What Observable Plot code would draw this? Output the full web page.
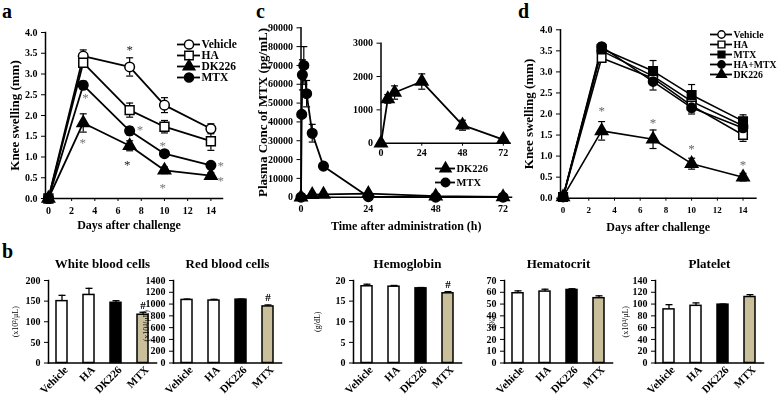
<!DOCTYPE html>
<html><head><meta charset="utf-8">
<script src="https://cdn.jsdelivr.net/npm/d3@7"></script>
<script src="https://cdn.jsdelivr.net/npm/@observablehq/plot@0.6"></script>
<style>
html,body{margin:0;padding:0;background:#fff;}
body{width:777px;height:398px;overflow:hidden;position:relative;font-family:'Liberation Serif','Times New Roman',serif;}
svg{max-width:none !important;}
.pl{position:absolute;will-change:transform;}
.letter{position:absolute;font-weight:bold;font-size:20px;line-height:normal;}
</style></head>
<body>
<div class="letter" style="left:2px;top:0px">a</div>
<div class="letter" style="left:256px;top:0px">c</div>
<div class="letter" style="left:518px;top:0px">d</div>
<div class="letter" style="left:2px;top:240px">b</div>
<script>
// ---------- DATA ----------
// Panel a
const aDays = [0, 3, 7, 10, 14];
const aNames = ["Vehicle", "HA", "DK226", "MTX"];
const aVehicle = [0, 3.43, 3.17, 2.25, 1.68];
const aVehicleErr = [0, 0.15, 0.22, 0.18, 0.12];
const aHA = [0, 3.27, 2.13, 1.73, 1.38];
const aHAErr = [0, 0.1, 0.17, 0.15, 0.22];
const aDK = [0, 1.82, 1.27, 0.68, 0.55];
const aDKErr = [0, 0.22, 0.12, 0.08, 0.07];
const aMTX = [0, 2.73, 1.63, 1.08, 0.8];
const aMTXErr = [0, 0.1, 0.1, 0.05, 0.05];
const aYTicks = [0, 0.5, 1, 1.5, 2, 2.5, 3, 3.5, 4];
const aXTicks = [0, 2, 4, 6, 8, 10, 12, 14];
const aStarX = [7, 6.8, 3.2, 2.95, 7.9, 9.85, 9.85, 14.85, 14.85];
const aStarY = [3.65, 0.88, 2.5, 1.42, 1.72, 1.35, 0.33, 0.86, 0.5];
const aStarDark = [true, true, false, false, false, false, false, false, false];

// Panel c
const cNames = ["DK226", "MTX"];
const cTimeDK = [0, 4, 8, 24, 48, 72];
const cDK = [0, 1330, 1520, 1850, 540, 110];
const cDKErr = [0, 130, 200, 230, 150, 30];
const cTimeMTX = [0, 0.25, 0.5, 1, 2, 4, 8, 24, 48, 72];
const cMTX = [0, 44000, 65000, 70000, 55000, 34000, 16500, 300, 0, 0];
const cMTXErr = [0, 0, 8000, 10000, 7000, 4700, 1000, 0, 0, 0];
const cYTicks = [0, 10000, 20000, 30000, 40000, 50000, 60000, 70000, 80000, 90000];
const cXTicks = [0, 24, 48, 72];
const cInsetYTicks = [0, 1000, 2000, 3000];

// Panel d
const dDays = [0, 3, 7, 10, 14];
const dNames = ["Vehicle", "HA", "MTX", "HA+MTX", "DK226"];
const dVehicle = [0.03, 3.5, 2.9, 2.3, 1.72];
const dVehicleErr = [0, 0.08, 0.2, 0.2, 0.15];
const dHA = [0.03, 3.33, 2.85, 2.2, 1.5];
const dHAErr = [0, 0.08, 0.15, 0.15, 0.15];
const dMTX = [0.03, 3.55, 3.02, 2.45, 1.83];
const dMTXErr = [0, 0.08, 0.25, 0.25, 0.15];
const dHAMTX = [0.03, 3.6, 2.77, 2.15, 1.67];
const dHAMTXErr = [0, 0.08, 0.2, 0.15, 0.15];
const dDK = [0.03, 1.6, 1.4, 0.82, 0.5];
const dDKErr = [0, 0.22, 0.22, 0.13, 0.09];
const dStarX = [3, 7, 10, 14];
const dStarY = [2.15, 1.86, 1.24, 0.86];

// Panel b
const barCats = ["Vehicle", "HA", "DK226", "MTX"];
const barFills = ["white", "white", "black", "#c9bf9a"];
const wbcVals = [150, 165, 146, 117];  const wbcErr = [14, 16, 5, 6];
const rbcVals = [1070, 1060, 1075, 960]; const rbcErr = [15, 20, 10, 25];
const hbVals = [18.6, 18.5, 18.1, 16.9]; const hbErr = [0.5, 0.3, 0.2, 0.4];
const hctVals = [59.2, 60.6, 62, 55];   const hctErr = [2, 2, 1, 2];
const pltVals = [91, 97, 99, 112];      const pltErr = [8, 5, 1, 4];
const wbcTicks = [0, 50, 100, 150, 200];
const rbcTicks = [0, 200, 400, 600, 800, 1000, 1200, 1400];
const hbTicks = [0, 5, 10, 15, 20];
const hctTicks = [0, 10, 20, 30, 40, 50, 60, 70];
const pltTicks = [0, 20, 40, 60, 80, 100, 120, 140];

// ---------- HELPERS ----------
const SERIF = "'Liberation Serif','Times New Roman',serif";
const baseStyle = {fontFamily: SERIF, fontWeight: "bold", fontSize: "10px", color: "black", background: "transparent", overflow: "visible"};
const capSym = {draw(ctx) { ctx.moveTo(-3.5, 0); ctx.lineTo(3.5, 0); }};

function place(node, left, top, w, h) {
  const d = document.createElement("div");
  d.className = "pl";
  d.style.left = left + "px"; d.style.top = top + "px";
  d.style.width = w + "px"; d.style.height = h + "px";
  d.appendChild(node);
  document.body.appendChild(d);
}

function rowsOf(specs) {
  return specs.flatMap(s => s.x.map((x, i) => ({s: s.name, x, y: s.y[i], e: s.err[i]})));
}

function seriesMarks(specs, lw) {
  const rows = rowsOf(specs);
  const marks = [];
  for (const s of specs) marks.push(Plot.line(rows.filter(d => d.s === s.name), {x: "x", y: "y", stroke: "black", strokeWidth: lw}));
  const er = rows.filter(d => d.e > 0);
  marks.push(Plot.ruleX(er, {x: "x", y1: d => d.y - d.e, y2: d => d.y + d.e, stroke: "black", strokeWidth: 1.2}));
  marks.push(Plot.dot(er, {x: "x", y: d => d.y + d.e, symbol: capSym, fill: "none", stroke: "black", strokeWidth: 1.2}));
  marks.push(Plot.dot(er, {x: "x", y: d => d.y - d.e, symbol: capSym, fill: "none", stroke: "black", strokeWidth: 1.2}));
  for (const s of specs) marks.push(Plot.dot(rows.filter(d => d.s === s.name), {x: "x", y: "y", symbol: s.symbol, fill: s.fill, stroke: "black", strokeWidth: 1.5, r: s.r}));
  return marks;
}

function legendPlot(specs, {lineW, textW, step, fontSize, rScale}) {
  const names = specs.map(s => s.name);
  const n = names.length;
  return Plot.plot({
    width: lineW + textW, height: (n - 1) * step + 12,
    marginLeft: 0, marginRight: textW, marginTop: 6, marginBottom: 6,
    y: {type: "point", domain: names, padding: 0, axis: null},
    style: {...baseStyle, fontSize: fontSize + "px"},
    marks: [
      Plot.ruleY(names, {y: d => d, stroke: "black", strokeWidth: 1.8}),
      ...specs.map(s => Plot.dot([s.name], {y: d => d, symbol: s.symbol, fill: s.fill, stroke: "black", strokeWidth: 1.4, r: s.r * rScale})),
      Plot.text(names, {y: d => d, text: d => d, frameAnchor: "right", textAnchor: "start", lineAnchor: "middle", dx: 1})
    ]
  });
}

function starMarks(stars, color) {
  return Plot.text(stars, {x: "x", y: "y", text: d => "*", fill: color, fontSize: 13, fontWeight: "normal", dy: 3});
}

// ---------- PANEL a ----------
const aSpecs = [
  {name: "Vehicle", x: aDays, y: aVehicle, err: aVehicleErr, symbol: "circle", fill: "white", r: 4.8},
  {name: "HA", x: aDays, y: aHA, err: aHAErr, symbol: "square", fill: "white", r: 5},
  {name: "DK226", x: aDays, y: aDK, err: aDKErr, symbol: "triangle", fill: "black", r: 4.6},
  {name: "MTX", x: aDays, y: aMTX, err: aMTXErr, symbol: "circle", fill: "black", r: 4.8}
];
const aStars = aStarX.map((x, i) => ({x, y: aStarY[i], dark: aStarDark[i]}));
place(Plot.plot({
  width: 240, height: 240, marginLeft: 45, marginRight: 18, marginTop: 32, marginBottom: 42,
  x: {domain: [-0.25, 15], label: null}, y: {domain: [0, 4], label: null},
  style: baseStyle,
  marks: [
    Plot.axisY(aYTicks, {tickSize: 4, tickPadding: 4, tickFormat: d => d.toFixed(1), label: null}),
    Plot.axisX(aXTicks, {tickSize: 3, tickPadding: 5, label: null, fontSize: 10}),
    Plot.frame({anchor: "left", strokeWidth: 1.5}),
    Plot.frame({anchor: "bottom", strokeWidth: 1.5}),
    ...seriesMarks(aSpecs, 1.8),
    starMarks(aStars.filter(d => d.dark), "#222"),
    starMarks(aStars.filter(d => !d.dark), "#777"),
    Plot.text(["Knee swelling (mm)"], {frameAnchor: "left", textAnchor: "middle", lineAnchor: "middle", rotate: -90, dx: -31, fontSize: 13}),
    Plot.text(["Days after challenge"], {frameAnchor: "bottom", textAnchor: "middle", lineAnchor: "middle", dy: 27, dx: -5, fontSize: 12})
  ]
}), 0, 0, 240, 240);
place(legendPlot(aSpecs, {lineW: 23, textW: 55, step: 11.7, fontSize: 11.5, rScale: 0.95}), 177, 37.3, 78, 47);

// ---------- PANEL c ----------
const cSpecs = [
  {name: "DK226", x: cTimeDK, y: cDK, err: cDKErr, symbol: "triangle", fill: "black", r: 4.6},
  {name: "MTX", x: cTimeMTX, y: cMTX, err: cMTXErr, symbol: "circle", fill: "black", r: 4.8}
];
place(Plot.plot({
  width: 260, height: 240, marginLeft: 45.5, marginRight: 4, marginTop: 27.3, marginBottom: 43.3,
  x: {domain: [0, 75], label: null}, y: {domain: [0, 90000], label: null},
  style: baseStyle,
  marks: [
    Plot.axisY(cYTicks, {tickSize: 4, tickPadding: 4, tickFormat: d3.format("d"), label: null}),
    Plot.axisX(cXTicks, {tickSize: 3, tickPadding: 5, label: null}),
    Plot.frame({anchor: "left", strokeWidth: 1.5}),
    Plot.frame({anchor: "bottom", strokeWidth: 1.5}),
    ...seriesMarks(cSpecs, 1.8),
    Plot.text(["Plasma Conc of MTX (pg/mL)"], {frameAnchor: "left", textAnchor: "middle", lineAnchor: "middle", rotate: -90, dx: -38, fontSize: 13}),
    Plot.text(["Time after administration (h)"], {frameAnchor: "bottom", textAnchor: "middle", lineAnchor: "middle", dy: 29, fontSize: 12})
  ]
}), 255, 0, 260, 240);
// inset
place(Plot.plot({
  width: 185, height: 165, marginLeft: 50.5, marginRight: 5.4, marginTop: 42.7, marginBottom: 22.3,
  x: {domain: [0, 76], label: null}, y: {domain: [0, 3000], label: null},
  style: baseStyle,
  marks: [
    Plot.axisY(cInsetYTicks, {tickSize: 4, tickPadding: 4, tickFormat: d3.format("d"), label: null}),
    Plot.axisX(cXTicks, {tickSize: 3, tickPadding: 3, label: null}),
    Plot.frame({anchor: "left", strokeWidth: 1.5}),
    Plot.frame({anchor: "bottom", strokeWidth: 1.5}),
    ...seriesMarks([cSpecs[0]], 1.8)
  ]
}), 330, 0, 185, 165);
place(legendPlot(cSpecs, {lineW: 20, textW: 45, step: 14.4, fontSize: 10.5, rScale: 0.9}), 435, 162.3, 65, 27);

// ---------- PANEL d ----------
const dSpecs = [
  {name: "Vehicle", x: dDays, y: dVehicle, err: dVehicleErr, symbol: "circle", fill: "white", r: 4.6},
  {name: "HA", x: dDays, y: dHA, err: dHAErr, symbol: "square", fill: "white", r: 4.8},
  {name: "MTX", x: dDays, y: dMTX, err: dMTXErr, symbol: "square", fill: "black", r: 4.8},
  {name: "HA+MTX", x: dDays, y: dHAMTX, err: dHAMTXErr, symbol: "circle", fill: "black", r: 4.6},
  {name: "DK226", x: dDays, y: dDK, err: dDKErr, symbol: "triangle", fill: "black", r: 4.6}
];
const dStars = dStarX.map((x, i) => ({x, y: dStarY[i]}));
place(Plot.plot({
  width: 262, height: 240, marginLeft: 45, marginRight: 21.6, marginTop: 29.3, marginBottom: 42.3,
  x: {domain: [-0.2, 15], label: null}, y: {domain: [0, 4], label: null},
  style: baseStyle,
  marks: [
    Plot.axisY(aYTicks, {tickSize: 4, tickPadding: 4, tickFormat: d => d.toFixed(1), label: null}),
    Plot.axisX(aXTicks, {tickSize: 3, tickPadding: 5, label: null, fontSize: 9}),
    Plot.frame({anchor: "left", strokeWidth: 1.5}),
    Plot.frame({anchor: "bottom", strokeWidth: 1.5}),
    ...seriesMarks(dSpecs, 1.6),
    starMarks(dStars, "#666"),
    Plot.text(["Knee swelling (mm)"], {frameAnchor: "left", textAnchor: "middle", lineAnchor: "middle", rotate: -90, dx: -32, fontSize: 13}),
    Plot.text(["Days after challenge"], {frameAnchor: "bottom", textAnchor: "middle", lineAnchor: "middle", dy: 29, fontSize: 12})
  ]
}), 515, 0, 262, 240);
place(legendPlot(dSpecs, {lineW: 22, textW: 44, step: 10.83, fontSize: 9.8, rScale: 0.8}), 710, 25.7, 66, 56);

// ---------- PANEL b ----------
function barChart({title, unit, unitOff, unitDy = 0, vals, errs, ticks, max, hash, axisX}) {
  const rows = barCats.map((c, i) => ({c, v: vals[i], e: errs[i], f: barFills[i]}));
  const marks = [
    Plot.axisY(ticks, {tickSize: 4, tickPadding: 4, tickFormat: d3.format("d"), label: null}),
    Plot.axisX({tickSize: 0, tickPadding: 5, tickRotate: -45, label: null, fontSize: 11, dx: 4}),
    Plot.ruleX(rows, {x: "c", y1: "v", y2: d => d.v + d.e, stroke: "black", strokeWidth: 1.3}),
    Plot.dot(rows, {x: "c", y: d => d.v + d.e, symbol: capSym, fill: "none", stroke: "black", strokeWidth: 1.3}),
    Plot.barY(rows, {x: "c", y: "v", fill: "f", stroke: "black", strokeWidth: 1.5}),
    Plot.frame({anchor: "left", strokeWidth: 1.5}),
    Plot.frame({anchor: "bottom", strokeWidth: 1.5}),
    Plot.text([title], {frameAnchor: "top", textAnchor: "middle", lineAnchor: "middle", dy: -17, fontSize: 13}),
    Plot.text([unit], {frameAnchor: "left", textAnchor: "middle", lineAnchor: "middle", rotate: -90, dx: -unitOff, dy: unitDy, fontSize: 8, fontWeight: "normal"})
  ];
  if (hash != null) marks.push(Plot.text([{c: "MTX", y: hash}], {x: "c", y: "y", text: d => "#", fontSize: 11, lineAnchor: "middle"}));
  place(Plot.plot({
    width: 164, height: 148, marginLeft: 50, marginRight: 6, marginTop: 30, marginBottom: 35.5,
    x: {type: "band", domain: barCats, paddingInner: 0.58, paddingOuter: 0.25, label: null},
    y: {domain: [0, max], label: null},
    fill: {type: "identity"},
    style: baseStyle,
    marks
  }), axisX - 50, 250, 164, 148);
}
barChart({title: "White blood cells", unit: "(x10²/μL)", unitOff: 33, vals: wbcVals, errs: wbcErr, ticks: wbcTicks, max: 200, hash: 140, axisX: 47.7});
barChart({title: "Red blood cells", unit: "(x10⁴/μL)", unitOff: 27, unitDy: 4, vals: rbcVals, errs: rbcErr, ticks: rbcTicks, max: 1400, hash: 1110, axisX: 173.3});
barChart({title: "Hemoglobin", unit: "(g/dL)", unitOff: 36, vals: hbVals, errs: hbErr, ticks: hbTicks, max: 20, hash: 19.0, axisX: 352.7});
barChart({title: "Hematocrit", unit: "(%)", unitOff: 12.5, vals: hctVals, errs: hctErr, ticks: hctTicks, max: 70, hash: null, axisX: 504});
barChart({title: "Platelet", unit: "(x10⁴/μL)", unitOff: 30, vals: pltVals, errs: pltErr, ticks: pltTicks, max: 140, hash: null, axisX: 655});
</script>
</body></html>
